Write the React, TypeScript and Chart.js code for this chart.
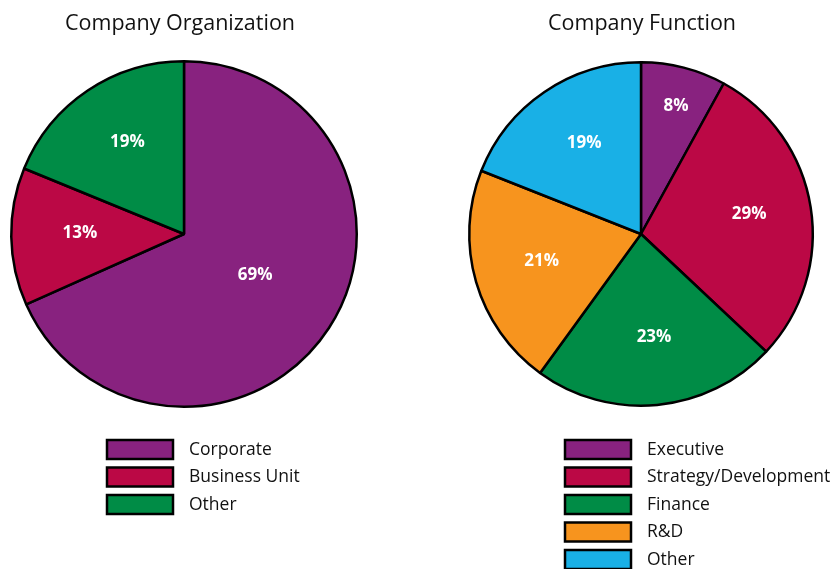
import React, { useEffect, useRef } from "react";
import { Chart, registerables } from "chart.js";

Chart.register(...registerables);

const orgTitle = "Company Organization";
const orgLabels = ["Corporate", "Business Unit", "Other"];
const orgValues = [69, 13, 19];
const orgColors = ["#88227f", "#bb0845", "#008c46"];

const funcTitle = "Company Function";
const funcLabels = ["Executive", "Strategy/Development", "Finance", "R&D", "Other"];
const funcValues = [8, 29, 23, 21, 19];
const funcColors = ["#88227f", "#bb0845", "#008c46", "#f7941e", "#19b0e6"];

const FONT = "'Open Sans', 'Noto Sans', sans-serif";

type Cfg = {
  title: string;
  labels: string[];
  values: number[];
  colors: string[];
  padding: { left: number; right: number; top: number; bottom: number };
  titleX: number;
  legendX: number;
};

const overlayPlugin = (cfg: Cfg) => ({
  id: "overlay",
  afterDraw(chart: any) {
    const ctx = chart.ctx as CanvasRenderingContext2D;
    const meta = chart.getDatasetMeta(0);
    ctx.save();
    // slice labels
    ctx.fillStyle = "#ffffff";
    ctx.font = `bold 17px ${FONT}`;
    ctx.textAlign = "center";
    ctx.textBaseline = "middle";
    meta.data.forEach((arc: any, i: number) => {
      const { x, y, startAngle, endAngle, outerRadius } = arc.getProps(
        ["x", "y", "startAngle", "endAngle", "outerRadius"],
        true
      );
      const mid = (startAngle + endAngle) / 2;
      const share = (endAngle - startAngle) / (Math.PI * 2);
      const f = share > 0.5 ? 0.47 : share < 0.1 ? 0.75 : 0.62;
      const r = outerRadius * f;
      ctx.fillText(cfg.values[i] + "%", x + Math.cos(mid) * r + 3, y + Math.sin(mid) * r - 3);
    });
    // title
    ctx.fillStyle = "#111111";
    ctx.font = `21.5px ${FONT}`;
    ctx.textAlign = "center";
    ctx.textBaseline = "middle";
    ctx.fillText(cfg.title, cfg.titleX, 24);
    // legend
    ctx.textAlign = "left";
    ctx.font = `17.5px ${FONT}`;
    cfg.labels.forEach((lab, i) => {
      const cy = 449 + i * 27.5;
      ctx.fillStyle = cfg.colors[i];
      ctx.fillRect(cfg.legendX, cy - 9, 66, 19);
      ctx.lineWidth = 2.5;
      ctx.strokeStyle = "#000000";
      ctx.strokeRect(cfg.legendX, cy - 9, 66, 19);
      ctx.fillStyle = "#111111";
      ctx.fillText(lab, cfg.legendX + 82, cy + 1);
    });
    ctx.restore();
  },
});

function PieChart({ cfg, left }: { cfg: Cfg; left: number }) {
  const ref = useRef<HTMLCanvasElement>(null);
  useEffect(() => {
    if (!ref.current) return;
    const chart = new Chart(ref.current, {
      type: "pie",
      data: {
        labels: cfg.labels,
        datasets: [
          {
            data: cfg.values,
            backgroundColor: cfg.colors,
            borderColor: "#000000",
            borderWidth: 2.5,
          },
        ],
      },
      options: {
        animation: false,
        responsive: false,
        maintainAspectRatio: false,
        layout: { padding: cfg.padding },
        plugins: {
          legend: { display: false },
          tooltip: { enabled: false },
        },
      },
      plugins: [overlayPlugin(cfg)],
    });
    return () => chart.destroy();
  }, []);
  return (
    <canvas
      ref={ref}
      width={416}
      height={569}
      style={{ position: "absolute", left, top: 0, width: 416, height: 569 }}
    />
  );
}

export default function App() {
  const leftCfg: Cfg = {
    title: orgTitle,
    labels: orgLabels,
    values: orgValues,
    colors: orgColors,
    padding: { left: 10, right: 58, top: 60, bottom: 161 },
    titleX: 180,
    legendX: 107,
  };
  const rightCfg: Cfg = {
    title: funcTitle,
    labels: funcLabels,
    values: funcValues,
    colors: funcColors,
    padding: { left: 52, right: 18, top: 60, bottom: 161 },
    titleX: 226,
    legendX: 149,
  };
  return (
    <div style={{ position: "fixed", left: 0, top: 0, width: 832, height: 569, background: "#fff" }}>
      <PieChart cfg={leftCfg} left={0} />
      <PieChart cfg={rightCfg} left={416} />
    </div>
  );
}
